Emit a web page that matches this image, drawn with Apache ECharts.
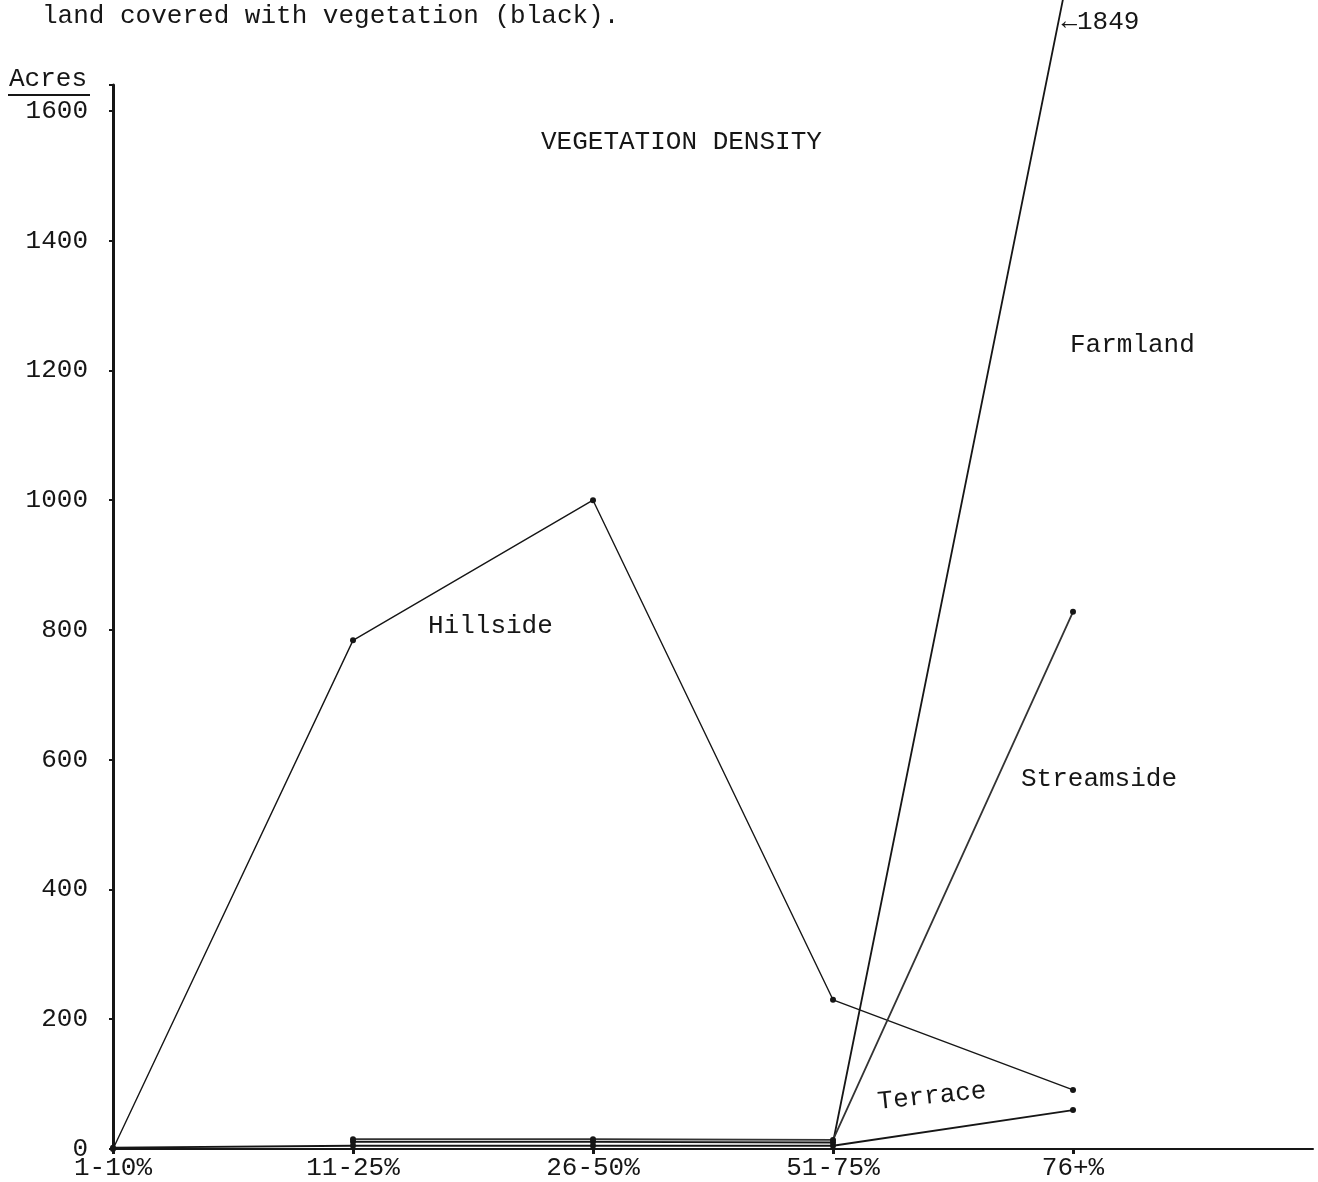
<!DOCTYPE html>
<html>
<head>
<meta charset="utf-8">
<script src="https://cdn.jsdelivr.net/npm/echarts@6/dist/echarts.min.js"></script>
<style>
  html, body { margin: 0; padding: 0; background: #ffffff; }
  #chart { width: 1318px; height: 1182px; }
</style>
</head>
<body>
<div id="chart"></div>
<script>
// ---- data ----
const categories = ['1-10%', '11-25%', '26-50%', '51-75%', '76+%', ''];
const hillside   = [0, 784, 1000, 230, 91];
const farmland   = [null, 11, 11, 10, 1849];
const streamside = [null, 15, 15, 14, 828];
const terrace    = [2, 5, 5, 5, 60];
const yTicks = [0, 200, 400, 600, 800, 1000, 1200, 1400, 1600];

const FONT = '"Liberation Mono", "DejaVu Sans Mono", monospace';
const INK = '#161616';

const chart = echarts.init(document.getElementById('chart'), null, { renderer: 'canvas' });

function lineSeries(name, data, extra) {
  return Object.assign({
    name: name,
    type: 'line',
    data: data,
    symbol: 'circle',
    symbolSize: 6,
    showSymbol: true,
    connectNulls: false,
    lineStyle: { color: INK, width: 1.6 },
    itemStyle: { color: INK },
    emphasis: { disabled: true },
    z: 3
  }, extra || {});
}

const option = {
  animation: false,
  backgroundColor: '#ffffff',
  grid: { left: 113, right: 5, top: 85, bottom: 33, containLabel: false },
  xAxis: {
    type: 'category',
    data: categories,
    boundaryGap: false,
    axisLine: { show: true, lineStyle: { color: INK, width: 2 } },
    axisTick: {
      show: true, length: 5, inside: false,
      lineStyle: { color: INK, width: 3 },
      interval: function (i, v) { return v !== ''; }
    },
    axisLabel: {
      color: INK, fontFamily: FONT, fontSize: 26, margin: 6,
      interval: 0
    },
    splitLine: { show: false }
  },
  yAxis: {
    type: 'value',
    min: 0,
    max: 1640,
    interval: 200,
    axisLine: { show: true, lineStyle: { color: INK, width: 3 } },
    axisTick: { show: true, length: 4, lineStyle: { color: INK, width: 2 } },
    axisLabel: {
      color: INK, fontFamily: FONT, fontSize: 26, margin: 25,
      formatter: function (v) { return yTicks.indexOf(v) >= 0 ? String(v) : ''; }
    },
    splitLine: { show: false }
  },
  series: [
    lineSeries('Hillside', hillside, { lineStyle: { color: INK, width: 1.4 } }),
    lineSeries('Farmland', farmland, { clip: false, lineStyle: { color: INK, width: 1.8 } }),
    lineSeries('Streamside', streamside, { lineStyle: { color: '#333333', width: 1.8 } }),
    lineSeries('Terrace', terrace, { lineStyle: { color: INK, width: 1.8 } })
  ],
  graphic: [
    { type: 'text', left: 42, top: 3,
      style: { text: 'land covered with vegetation (black).', font: '26px ' + FONT, fill: INK } },
    { type: 'text', left: 9, top: 66,
      style: { text: 'Acres', font: '26px ' + FONT, fill: INK } },
    { type: 'line', shape: { x1: 8, y1: 95, x2: 90, y2: 95 }, style: { stroke: INK, lineWidth: 2 } },
    { type: 'text', left: 541, top: 129,
      style: { text: 'VEGETATION DENSITY', font: '26px ' + FONT, fill: INK } },
    { type: 'text', left: 428, top: 613,
      style: { text: 'Hillside', font: '26px ' + FONT, fill: INK } },
    { type: 'text', left: 1070, top: 332,
      style: { text: 'Farmland', font: '26px ' + FONT, fill: INK } },
    { type: 'text', left: 1021, top: 766,
      style: { text: 'Streamside', font: '26px ' + FONT, fill: INK } },
    { type: 'text', x: 879, y: 1115, rotation: 6 * Math.PI / 180,
      style: { text: 'Terrace', font: '26px ' + FONT, fill: INK, textVerticalAlign: 'bottom' } }
  ]
};

chart.setOption(option);

// place the "←1849" note beside the Farmland line where it leaves the top of the page
const p1 = chart.convertToPixel({ gridIndex: 0 }, [3, farmland[3]]);
const p2 = chart.convertToPixel({ gridIndex: 0 }, [4, farmland[4]]);
const yNote = 22;
const xAt = p1[0] + (p2[0] - p1[0]) * (p1[1] - yNote) / (p1[1] - p2[1]);
option.graphic.push({
  type: 'text', x: xAt + 3, y: yNote,
  style: { text: '\u21901849', font: '26px ' + FONT, fill: INK, textVerticalAlign: 'middle' }
});
chart.setOption({ graphic: option.graphic });
</script>
</body>
</html>
